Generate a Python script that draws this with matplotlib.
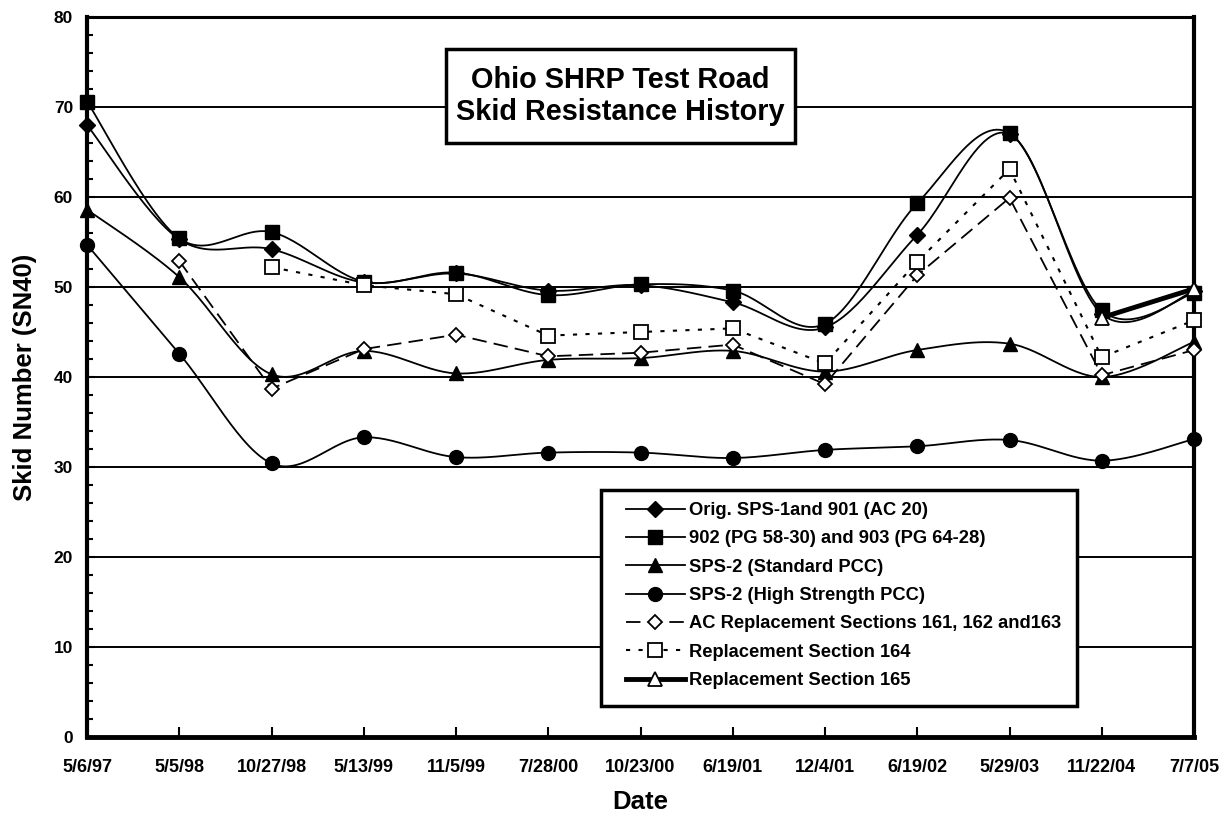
import numpy as np
import matplotlib
matplotlib.use("Agg")
import matplotlib.pyplot as plt
from matplotlib.lines import Line2D
from matplotlib.patches import Rectangle

plt.rcParams['font.family'] = ['Liberation Sans', 'DejaVu Sans']
plt.rcParams['font.weight'] = 'bold'

dates = ["5/6/97", "5/5/98", "10/27/98", "5/13/99", "11/5/99", "7/28/00", "10/23/00",
         "6/19/01", "12/4/01", "6/19/02", "5/29/03", "11/22/04", "7/7/05"]

orig_sps1 = [68.0, 55.3, 54.2, 50.5, 51.5, 49.6, 50.2, 48.3, 45.5, 55.8, 67.0, 47.0, 49.5]
pg_902_903 = [70.6, 55.4, 56.1, 50.6, 51.6, 49.1, 50.3, 49.6, 45.9, 59.3, 67.1, 47.4, 49.3]
sps2_std = [58.6, 51.1, 40.3, 42.9, 40.4, 41.9, 42.1, 42.9, 40.6, 43.0, 43.7, 40.0, 43.9]
sps2_high = [54.7, 42.6, 30.4, 33.3, 31.1, 31.6, 31.6, 31.0, 31.9, 32.3, 33.0, 30.7, 33.1]
ac_repl = [None, 52.9, 38.7, 43.1, 44.7, 42.3, 42.7, 43.6, 39.2, 51.3, 59.9, 40.2, 43.0]
repl_164 = [None, None, 52.2, 50.2, 49.2, 44.6, 45.0, 45.4, 41.5, 52.8, 63.1, 42.2, 46.3]
repl_165 = [None, None, None, None, None, None, None, None, None, None, None, 46.6, 49.8]

legend_labels = ["Orig. SPS-1and 901 (AC 20)", "902 (PG 58-30) and 903 (PG 64-28)",
                 "SPS-2 (Standard PCC)", "SPS-2 (High Strength PCC)",
                 "AC Replacement Sections 161, 162 and163", "Replacement Section 164",
                 "Replacement Section 165"]

title_text = "Ohio SHRP Test Road\nSkid Resistance History"


def smooth(xs, ys, n=30):
    """Excel-style (Catmull-Rom Bezier) smoothing through the points."""
    P = np.column_stack([xs, ys]).astype(float)
    m = len(P)
    out = [P[0]]
    for i in range(m - 1):
        p0 = P[i - 1] if i > 0 else P[i]
        p1 = P[i]
        p2 = P[i + 1]
        p3 = P[i + 2] if i + 2 < m else P[i + 1]
        c1 = p1 + (p2 - p0) / 6.0
        c2 = p2 - (p3 - p1) / 6.0
        t = np.linspace(0, 1, n)[1:, None]
        seg = ((1 - t) ** 3) * p1 + 3 * ((1 - t) ** 2) * t * c1 + 3 * (1 - t) * t ** 2 * c2 + t ** 3 * p2
        out.extend(seg)
    out = np.array(out)
    return out[:, 0], out[:, 1]


def valid(vals):
    xs = [i for i, v in enumerate(vals) if v is not None]
    ys = [v for v in vals if v is not None]
    return np.array(xs), np.array(ys)


W, H = 1226, 813
fig = plt.figure(figsize=(W / 100, H / 100), dpi=100)
L, R, T, B = 87, 1194, 17, 737
ax = fig.add_axes([L / W, 1 - B / H, (R - L) / W, (B - T) / H])
ax.set_xlim(0, len(dates) - 1)
ax.set_ylim(0, 80)

for yv in range(10, 80, 10):
    ax.axhline(yv, color='black', lw=1.4, zorder=1)

series = [
    (orig_sps1, dict(marker='D', ms=8, mfc='black', mec='black'), dict(ls='-', lw=1.3), True),
    (pg_902_903, dict(marker='s', ms=10, mfc='black', mec='black'), dict(ls='-', lw=1.3), True),
    (sps2_std, dict(marker='^', ms=10, mfc='black', mec='black'), dict(ls='-', lw=1.3), True),
    (sps2_high, dict(marker='o', ms=10, mfc='black', mec='black'), dict(ls='-', lw=1.3), True),
    (ac_repl, dict(marker='D', ms=7, mfc='white', mec='black', mew=1.3), dict(ls=(0, (8, 4)), lw=1.3), False),
    (repl_164, dict(marker='s', ms=10, mfc='white', mec='black', mew=1.3), dict(ls=(0, (2, 4)), lw=1.5), False),
    (repl_165, dict(marker='^', ms=10, mfc='white', mec='black', mew=1.3), dict(ls='-', lw=3.5), False),
]

handles = []
for vals, mk, ln, sm in series:
    xs, ys = valid(vals)
    if sm:
        sx, sy = smooth(xs, ys)
    else:
        sx, sy = xs, ys
    ax.plot(sx, sy, color='black', zorder=3, clip_on=False, **ln)
    ax.plot(xs, ys, ls='none', zorder=4, clip_on=False, **mk)
    handles.append(Line2D([], [], color='black', **ln, **mk))

ax.set_xticks(range(len(dates)))
ax.set_xticklabels(dates, fontsize=13, fontweight='bold')
ax.set_yticks(range(0, 81, 10))
ax.set_yticklabels([str(v) for v in range(0, 81, 10)], fontsize=12.5, fontweight='bold')
ax.set_yticks(range(0, 81, 2), minor=True)
ax.tick_params(axis='y', which='major', direction='in', length=6, width=1.5, pad=10)
ax.tick_params(axis='y', which='minor', direction='in', length=4, width=1.5)
ax.tick_params(axis='x', which='major', direction='in', length=7, width=1.5, pad=16)

for side, w in [('left', 3), ('bottom', 3.5), ('right', 3), ('top', 2.2)]:
    ax.spines[side].set_linewidth(w)
    ax.spines[side].set_color('black')

ax.set_ylabel("Skid Number (SN40)", fontsize=18.5, fontweight='bold', labelpad=12)
ax.set_xlabel("Date", fontsize=18.5, fontweight='bold', labelpad=10)

# title box
bx0, bx1, by0, by1 = 446, 795, 49, 143
ax.add_patch(Rectangle((bx0 / W, 1 - by1 / H), (bx1 - bx0) / W, (by1 - by0) / H,
                       transform=fig.transFigure, fc='white', ec='black', lw=2.5,
                       zorder=8, clip_on=False))
ax.text((bx0 + bx1) / 2 / W, 1 - 96 / H, title_text, transform=fig.transFigure,
        fontsize=20.8, fontweight='bold', ha='center', va='center', linespacing=1.15, zorder=9)

# legend frame
lx0, lx1, ly0, ly1 = 601, 1077, 490, 706
ax.add_patch(Rectangle((lx0 / W, 1 - ly1 / H), (lx1 - lx0) / W, (ly1 - ly0) / H,
                       transform=fig.transFigure, fc='white', ec='black', lw=2.5,
                       zorder=8, clip_on=False))
leg = ax.legend(handles, legend_labels, loc='upper left',
                bbox_to_anchor=(626 / W, 1 - 502 / H), bbox_transform=fig.transFigure,
                prop=dict(weight='bold', size=13.2), handlelength=3.2, handletextpad=0.25,
                labelspacing=0.62, borderpad=0, borderaxespad=0, frameon=False)
leg.set_zorder(10)

fig.savefig("out.png", dpi=100)
